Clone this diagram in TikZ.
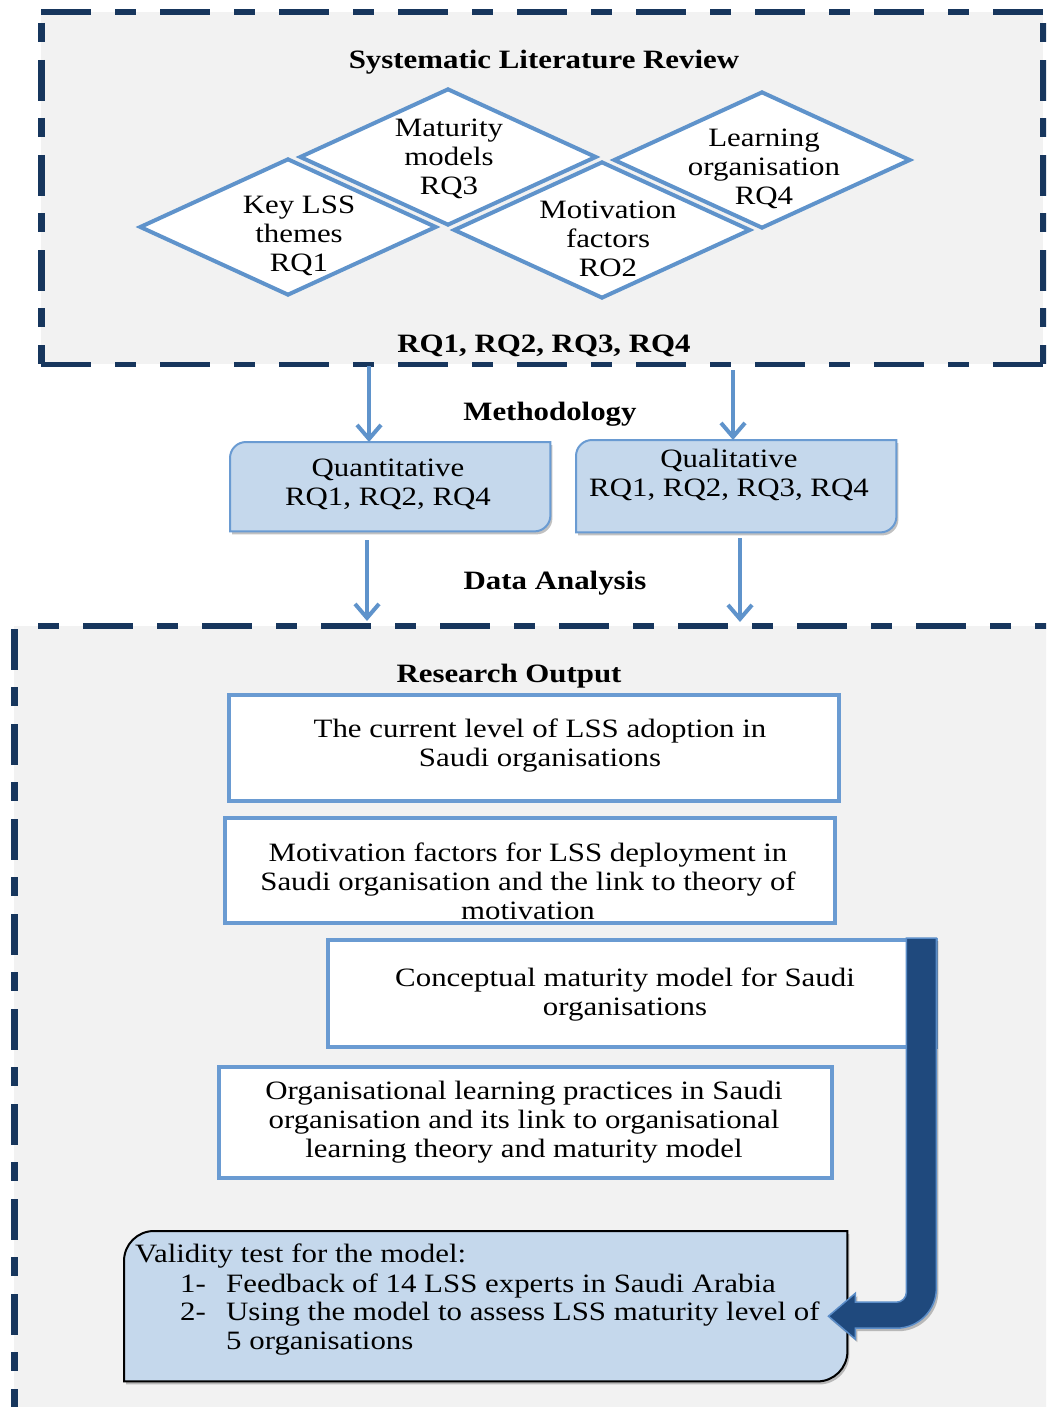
\documentclass[tikz,border=0pt]{standalone}
\usepackage{fontspec}
\setmainfont{Liberation Serif}[FakeStretch=1.165]
\usetikzlibrary{arrows.meta,shadows,calc,shapes.geometric}
\definecolor{frameblue}{RGB}{23,54,93}
\definecolor{panelgray}{HTML}{F2F2F2}
\definecolor{edgeblue}{HTML}{5F93CB}
\definecolor{boxedge}{HTML}{6A9BD2}
\definecolor{paleblue}{HTML}{C5D8EC}
\definecolor{deepblue}{HTML}{1F497D}
\definecolor{rimblue}{HTML}{5B8DC8}
% box with rounded top-left and bottom-right corners, drawn over an empty node
\newcommand{\roundpair}[3]{%
  \draw[#3] (#1.south west) -- ([yshift=-#2]#1.north west)
    arc[start angle=180,end angle=90,radius=#2] -- (#1.north east)
    -- ([yshift=#2]#1.south east)
    arc[start angle=0,end angle=-90,radius=#2] -- cycle;}
\begin{document}
\begin{tikzpicture}[x=1pt,y=1pt,
  every node/.style={font=\fontsize{26.5}{29}\selectfont, inner sep=0pt, align=center},
  txt/.style={yshift=-3pt},
  hhead/.style={font=\fontsize{26.5}{29}\selectfont\bfseries, yshift=-3pt},
  panel/.style={fill=panelgray, draw=none, anchor=north west, inner sep=0pt},
  hdash/.style={draw=frameblue, line width=5.5pt, dash pattern=on 50pt off 24pt on 21pt off 24pt},
  vdash/.style={draw=frameblue, line width=7pt, dash pattern=on 41pt off 17pt on 19pt off 18pt},
  facet/.style={shape=diamond, draw=edgeblue, fill=white, line width=4pt,
    minimum width=297pt, minimum height=137pt, inner sep=0pt},
  feed/.style={draw=edgeblue, line width=4pt, -{Straight Barb[length=14pt,width=24pt]}},
  holder/.style={anchor=north west, inner sep=0pt, draw=none},
  outbox/.style={draw=boxedge, fill=white, line width=4pt, anchor=north west, inner sep=0pt},
  softshadow/.style={drop shadow={shadow xshift=2pt, shadow yshift=-3pt, opacity=0.35, fill=black!70}},
  methbox/.style={fill=paleblue, draw=boxedge, line width=2pt, softshadow},
  valbox/.style={fill=paleblue, draw=black, line width=2pt, softshadow}
]
\useasboundingbox (0,0) rectangle (1046,-1407);
\clip (0,0) rectangle (1046,-1407);

% ---- systematic literature review panel ----
\node[panel, minimum width=1002pt, minimum height=352pt] (slr) at (41,-12) {};
\draw[hdash] (slr.north west) -- (slr.north east);
\draw[hdash] (slr.south west) -- (slr.south east);
\draw[vdash, dash phase=47pt] (slr.north west) -- (slr.south west);
\draw[vdash, dash phase=47pt] (slr.north east) -- (slr.south east);

\node[hhead] (slrtitle) at (544,-59) {Systematic Literature Review};
\node[hhead] (slrrq) at (544,-343) {RQ1, RQ2, RQ3, RQ4};

\node[facet] (d3) at (448,-157) {};
\node[facet] (d4) at (762,-160) {};
\node[facet] (d1) at (288,-227) {};
\node[facet] (d2) at (602,-230) {};
\node[txt] (t1) at (299,-233) {Key LSS\\themes\\RQ1};
\node[txt] (t3) at (449,-156) {Maturity\\models\\RQ3};
\node[txt] (t2) at (608,-236) {Motivation\\factors\\RO2};
\node[txt] (t4) at (764,-166) {Learning\\organisation\\RQ4};

% ---- methodology ----
\node[hhead] (meth) at (550,-411) {Methodology};
\node[holder, minimum width=320pt, minimum height=89pt] (quant) at (230,-442) {};
\node[holder, minimum width=320pt, minimum height=92pt] (qual) at (576,-440) {};
\roundpair{quant}{16pt}{methbox}
\roundpair{qual}{16pt}{methbox}
\node[txt] (quantt) at (388,-481) {Quantitative\\RQ1, RQ2, RQ4};
\node[txt] (qualt) at (729,-472) {Qualitative\\RQ1, RQ2, RQ3, RQ4};

\coordinate (s1) at (369,-366);
\coordinate (s2) at (733,-370);
\draw[feed] (s1) -- (s1 |- quant.north);
\draw[feed] (s2) -- (s2 |- qual.north);

% ---- research output panel ----
\node[hhead] (data) at (555,-580) {Data Analysis};
\node[panel, minimum width=1040pt, minimum height=800pt] (out) at (14,-626) {};
\draw[hdash, dash phase=50pt] (out.north west) -- (out.north east);
\draw[vdash, dash phase=92pt] (out.north west) -- (out.south west);

\coordinate (s3) at (367,-540);
\coordinate (s4) at (740,-538);
\draw[feed, shorten >=5pt] (s3) -- (s3 |- out.north);
\draw[feed, shorten >=4pt] (s4) -- (s4 |- out.north);

\node[hhead] (outtitle) at (509,-673) {Research Output};

\node[outbox, minimum width=610pt, minimum height=106pt] (o1) at (227,-693) {};
\node[txt] (o1t) at (540,-743) {The current level of LSS adoption in\\Saudi organisations};

\node[outbox, minimum width=610pt, minimum height=105pt] (o2) at (223,-816) {};
\node[txt] (o2t) at (528,-878) {Motivation factors for LSS deployment in\\Saudi organisation and the link to theory of\\motivation};

\node[outbox, minimum width=608pt, minimum height=107pt] (o3) at (326,-938) {};
\node[txt] (o3t) at (625,-992) {Conceptual maturity model for Saudi\\organisations};

\node[outbox, minimum width=613pt, minimum height=111pt] (o4) at (217,-1065) {};
\node[txt] (o4t) at (524,-1119) {Organisational learning practices in Saudi\\organisation and its link to organisational\\learning theory and maturity model};

% ---- validity test ----
\node[holder, minimum width=723pt, minimum height=150pt] (val) at (124,-1231) {};
\roundpair{val}{30pt}{valbox}
\node[anchor=base west] (v0) at (135,-1262) {Validity test for the model:};
\node[anchor=base west] (v1n) at (180,-1292) {1-};
\node[anchor=base west] (v1) at (226,-1292) {Feedback of 14 LSS experts in Saudi Arabia};
\node[anchor=base west] (v2n) at (180,-1320) {2-};
\node[anchor=base west] (v2) at (226,-1320) {Using the model to assess LSS maturity level of};
\node[anchor=base west] (v3) at (226,-1349) {5 organisations};

% bent block arrow from the maturity model down into the validity test
\coordinate (tip) at ($(val.east)+(-19,-10)$);
\draw[fill=deepblue, draw=rimblue, line width=1.5pt, softshadow]
  (tip) -- ++(27,23) -- ++(0,-9) -- ++(41,0)
  arc[start angle=-90,end angle=0,radius=10]
  -- ++(0,354) -- ++(30,0) -- ++(0,-350)
  arc[start angle=0,end angle=-90,radius=40]
  -- ++(-41,0) -- ++(0,-11) -- cycle;
\end{tikzpicture}
\end{document}
